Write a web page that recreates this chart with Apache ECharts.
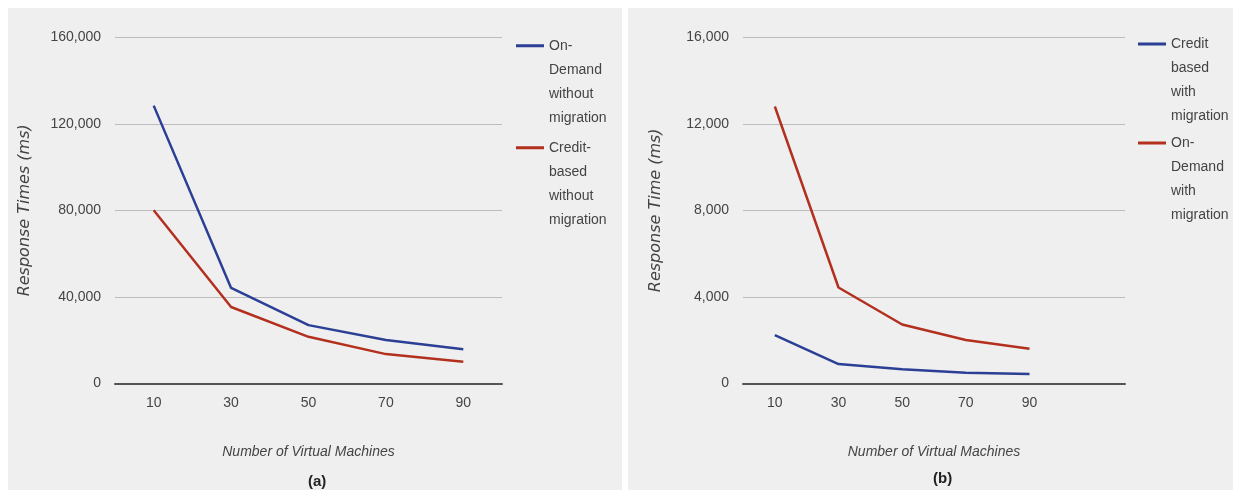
<!DOCTYPE html>
<html>
<head>
<meta charset="utf-8">
<script src="https://cdn.jsdelivr.net/npm/echarts@6/dist/echarts.min.js"></script>
<style>
html,body{margin:0;padding:0;background:#fff;}
#chart{width:1233px;height:490px;}
</style>
</head>
<body>
<div id="chart"></div>
<script>
// ---- data ----
var vmCategoriesA = ['10', '30', '50', '70', '90'];
var vmCategoriesB = ['10', '30', '50', '70', '90', ''];
var yTicksA = [0, 40000, 80000, 120000, 160000];
var yTicksB = [0, 4000, 8000, 12000, 16000];

var onDemandWithoutMigration = [128400, 44100, 26900, 20000, 15700];
var creditWithoutMigration   = [80000, 35300, 21500, 13500, 10000];
var creditWithMigration      = [2230, 890, 645, 490, 430];
var onDemandWithMigration    = [12800, 4430, 2720, 2000, 1600];

var nameA1 = 'On-\nDemand\nwithout\nmigration';
var nameA2 = 'Credit-\nbased\nwithout\nmigration';
var nameB1 = 'Credit\nbased\nwith\nmigration';
var nameB2 = 'On-\nDemand\nwith\nmigration';

var BLUE = '#2b3f95';
var RED = '#b3301f';
var TXT = '#444';
var FONT = 'Liberation Sans, Arial, sans-serif';

var chart = echarts.init(document.getElementById('chart'), null, {renderer: 'canvas'});

var legendIcon = 'path://M0,0h0.01v0.01h-0.01z M0,10.5h28v3h-28z M27.99,95.99h0.01v0.01h-0.01z';

function yAxis(idx, ticks, name, gap) {
  return {
    type: 'value', gridIndex: idx,
    min: ticks[0], max: ticks[ticks.length - 1], interval: ticks[1] - ticks[0],
    name: name, nameLocation: 'middle', nameGap: gap,
    nameTextStyle: {fontFamily: 'DejaVu Sans', fontStyle: 'italic', fontSize: 16, color: TXT},
    axisLine: {show: false}, axisTick: {show: false},
    axisLabel: {fontFamily: FONT, fontSize: 14, color: TXT, margin: 14},
    splitLine: {lineStyle: {color: '#bdbdbd', width: 1}}
  };
}
function xAxis(idx, cats) {
  return {
    type: 'category', gridIndex: idx, data: cats, boundaryGap: true,
    name: 'Number of Virtual Machines', nameLocation: 'middle', nameGap: 62,
    nameTextStyle: {fontFamily: FONT, fontStyle: 'italic', fontSize: 14, color: TXT},
    axisLine: {lineStyle: {color: '#555', width: 2}},
    axisTick: {show: false},
    axisLabel: {fontFamily: FONT, fontSize: 14, color: TXT, margin: 13, interval: 0}
  };
}
function lineSeries(name, data, color, idx) {
  return {
    type: 'line', name: name, data: data, xAxisIndex: idx, yAxisIndex: idx,
    symbol: 'none', showSymbol: false, color: color,
    lineStyle: {color: color, width: 2.5}, itemStyle: {color: color}
  };
}
function legend(left, top, names, gap) {
  return {
    orient: 'vertical', left: left, top: top, padding: 0, itemGap: gap,
    itemWidth: 28, itemHeight: 96, icon: legendIcon, selectedMode: false,
    itemStyle: {borderWidth: 0},
    textStyle: {fontFamily: FONT, fontSize: 14, color: TXT, lineHeight: 24},
    data: names
  };
}

chart.setOption({
  animation: false,
  backgroundColor: '#ffffff',
  graphic: [
    {type: 'rect', shape: {x: 8, y: 8, width: 614, height: 482}, style: {fill: '#efefef'}, z: -100, silent: true},
    {type: 'rect', shape: {x: 628, y: 8, width: 605, height: 482}, style: {fill: '#efefef'}, z: -100, silent: true},
    {type: 'text', left: 308, top: 474, style: {text: '(a)', font: 'bold 15px Liberation Sans', fill: '#222'}, z: 10},
    {type: 'text', left: 933, top: 471, style: {text: '(b)', font: 'bold 15px Liberation Sans', fill: '#222'}, z: 10}
  ],
  grid: [
    {left: 115, top: 37.3, width: 387, height: 346},
    {left: 743, top: 37.3, width: 382, height: 346}
  ],
  xAxis: [xAxis(0, vmCategoriesA), xAxis(1, vmCategoriesB)],
  yAxis: [yAxis(0, yTicksA, 'Response Times (ms)', 82), yAxis(1, yTicksB, 'Response Time (ms)', 79)],
  legend: [legend(516, 33.7, [nameA1, nameA2], 6), legend(1138, 32, [nameB1, nameB2], 3)],
  series: [
    lineSeries(nameA1, onDemandWithoutMigration, BLUE, 0),
    lineSeries(nameA2, creditWithoutMigration, RED, 0),
    lineSeries(nameB1, creditWithMigration, BLUE, 1),
    lineSeries(nameB2, onDemandWithMigration, RED, 1)
  ]
});
</script>
</body>
</html>
